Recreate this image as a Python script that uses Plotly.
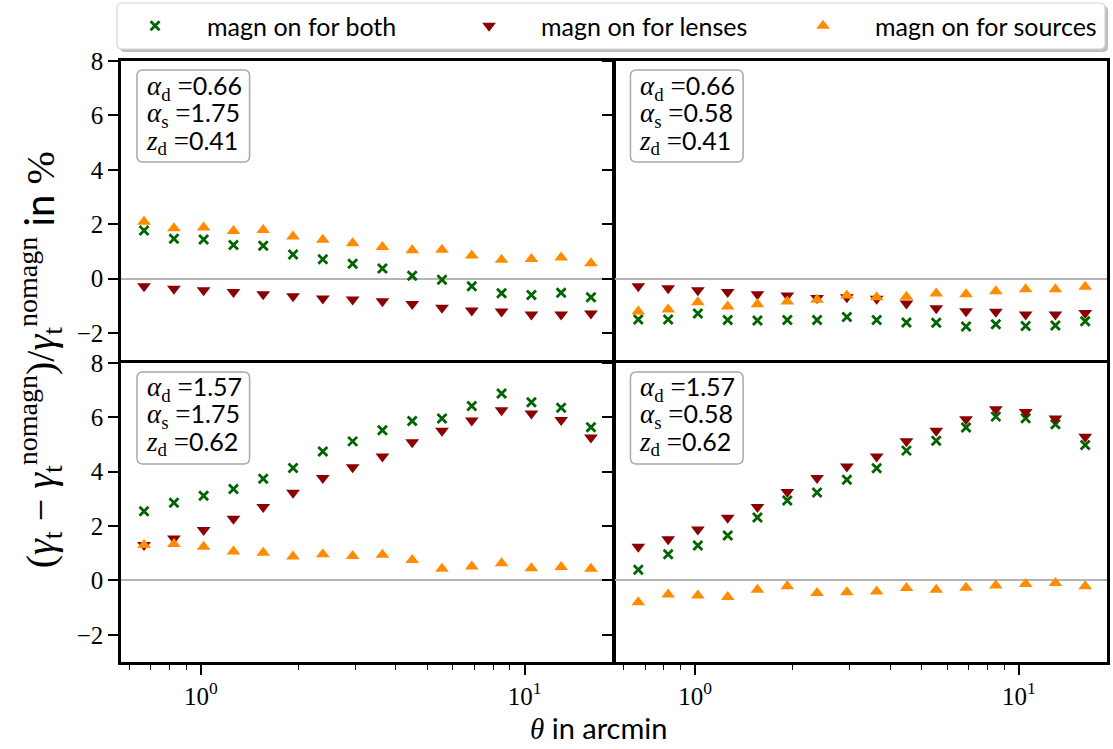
import plotly.graph_objects as go
from plotly.subplots import make_subplots

theta = [0.667, 0.825, 1.019, 1.26, 1.557, 1.925, 2.379, 2.941, 3.635, 4.493,
         5.553, 6.864, 8.484, 10.49, 12.96, 16.02]

# panel order: top-left, top-right, bottom-left, bottom-right
both = [
    [1.77, 1.47, 1.44, 1.24, 1.21, 0.89, 0.71, 0.55, 0.37, 0.11, -0.04, -0.28, -0.54, -0.60, -0.52, -0.68],
    [-1.50, -1.50, -1.28, -1.52, -1.54, -1.52, -1.52, -1.41, -1.52, -1.61, -1.62, -1.76, -1.68, -1.74, -1.72, -1.57],
    [2.54, 2.85, 3.11, 3.36, 3.74, 4.13, 4.74, 5.11, 5.52, 5.86, 5.95, 6.41, 6.87, 6.55, 6.35, 5.63],
    [0.39, 0.96, 1.28, 1.65, 2.31, 2.94, 3.23, 3.70, 4.12, 4.77, 5.13, 5.62, 6.02, 5.96, 5.74, 4.98],
]
lenses = [
    [-0.28, -0.37, -0.43, -0.49, -0.57, -0.65, -0.73, -0.77, -0.83, -0.93, -1.07, -1.17, -1.21, -1.32, -1.32, -1.28],
    [-0.28, -0.35, -0.43, -0.49, -0.57, -0.62, -0.71, -0.68, -0.74, -0.91, -1.09, -1.20, -1.22, -1.32, -1.32, -1.26],
    [1.30, 1.54, 1.85, 2.27, 2.70, 3.22, 3.76, 4.16, 4.55, 5.08, 5.50, 5.88, 6.25, 6.13, 5.90, 5.25],
    [1.24, 1.51, 1.87, 2.30, 2.70, 3.25, 3.76, 4.19, 4.55, 5.11, 5.50, 5.92, 6.29, 6.19, 5.95, 5.28],
]
sources = [
    [2.09, 1.85, 1.88, 1.75, 1.79, 1.55, 1.43, 1.30, 1.16, 1.04, 1.06, 0.85, 0.69, 0.72, 0.78, 0.57],
    [-1.21, -1.13, -0.87, -1.02, -0.94, -0.84, -0.78, -0.62, -0.68, -0.67, -0.55, -0.57, -0.46, -0.39, -0.39, -0.30],
    [1.30, 1.34, 1.24, 1.06, 1.02, 0.88, 0.96, 0.90, 0.94, 0.75, 0.43, 0.51, 0.63, 0.45, 0.49, 0.43],
    [-0.80, -0.52, -0.56, -0.61, -0.34, -0.22, -0.46, -0.44, -0.41, -0.28, -0.34, -0.27, -0.19, -0.13, -0.10, -0.22],
]
alpha_d = ["0.66", "0.66", "1.57", "1.57"]
alpha_s = ["1.75", "0.58", "1.75", "0.58"]
z_d = ["0.41", "0.41", "0.62", "0.62"]

series_names = ["magn on for both", "magn on for lenses", "magn on for sources"]
colors = ["#006400", "#8b0000", "#ff8c00"]

SERIF = "Liberation Serif, DejaVu Serif, serif"
SANS = "Lato, Open Sans, sans-serif"
TICKC = "black"

W, H = 1113, 749
L, R, T, B = 121, 3, 61, 87
PW, PH = W - L - R, H - T - B
LW = 2.5

fig = make_subplots(rows=2, cols=2, shared_xaxes=True, shared_yaxes=True,
                    horizontal_spacing=LW / PW, vertical_spacing=LW / PH)

positions = [(1, 1), (1, 2), (2, 1), (2, 2)]
for k, (r, c) in enumerate(positions):
    show = k == 0
    fig.add_trace(go.Scatter(x=theta, y=both[k], mode="markers", name=series_names[0],
                             legendgroup="a", showlegend=show,
                             marker=dict(symbol="x-thin", size=9, color=colors[0],
                                         line=dict(width=2.8, color=colors[0]))), row=r, col=c)
    fig.add_trace(go.Scatter(x=theta, y=lenses[k], mode="markers", name=series_names[1],
                             legendgroup="b", showlegend=show,
                             marker=dict(symbol="triangle-down", size=12, color=colors[1])), row=r, col=c)
    fig.add_trace(go.Scatter(x=theta, y=sources[k], mode="markers", name=series_names[2],
                             legendgroup="c", showlegend=show,
                             marker=dict(symbol="triangle-up", size=12, color=colors[2])), row=r, col=c)


def px(x, y):
    return (x - L) / PW, (H - B - y) / PH


def rounded(x0, y0, x1, y1, rad):
    ax0, ay0 = px(x0, y0)
    ax1, ay1 = px(x1, y1)
    rx, ry = rad / PW, rad / PH
    return (f"M {ax0+rx},{ay0} L {ax1-rx},{ay0} Q {ax1},{ay0} {ax1},{ay0-ry} "
            f"L {ax1},{ay1+ry} Q {ax1},{ay1} {ax1-rx},{ay1} L {ax0+rx},{ay1} "
            f"Q {ax0},{ay1} {ax0},{ay1+ry} L {ax0},{ay0-ry} Q {ax0},{ay0} {ax0+rx},{ay0} Z")


shapes = []
shapes.append(dict(type="path", xref="paper", yref="paper", path=rounded(120, 6, 1111, 52, 5),
                   fillcolor="#bdbdbd", line=dict(width=0), layer="below"))
shapes.append(dict(type="path", xref="paper", yref="paper", path=rounded(117, 3, 1108, 49, 5),
                   fillcolor="white", line=dict(color="#d4d4d4", width=1.2), layer="below"))

box_pos = [(137, 70), (632, 70), (137, 372), (632, 372)]
annotations = []


def box_line(sym, sub, val):
    return (f"<span style='font-size:27px'><i>{sym}</i><sub>{sub}</sub> =</span>"
            f"<span style='font-family:Lato;font-size:25px'>{val}</span>")


for k, (bx, by) in enumerate(box_pos):
    shapes.append(dict(type="path", xref="paper", yref="paper",
                       path=rounded(bx, by, bx + 113, by + 92, 6),
                       fillcolor="white", line=dict(color="#a8a8a8", width=1.5), layer="below"))
    txt = "<br>".join([box_line("α", "d", alpha_d[k]),
                       box_line("α", "s", alpha_s[k]),
                       box_line("z", "d", z_d[k])])
    tx, ty = px(bx + 7, by + 44)
    annotations.append(dict(text=txt, xref="paper", yref="paper", x=tx, y=ty,
                            xanchor="left", yanchor="middle", align="left", showarrow=False,
                            font=dict(family=SERIF, size=21, color="black")))

xt, yt = px(600, 728)
annotations.append(dict(text="<i>θ</i><span style='font-family:Lato'> in arcmin</span>",
                        xref="paper", yref="paper", x=xt, y=yt, xanchor="center", yanchor="middle",
                        showarrow=False, font=dict(family=SERIF, size=29, color="black")))
ytitle = ("(<i>γ</i><sub>t</sub> − <i>γ</i><sub>t</sub><sup>nomagn</sup>)/<i>γ</i><sub>t</sub>"
          "<sup>nomagn</sup><span style='font-family:Lato'> in </span>%")
xt2, yt2 = px(40, 360)
annotations.append(dict(text=ytitle, xref="paper", yref="paper", x=xt2, y=yt2, textangle=-90,
                        xanchor="center", yanchor="middle", showarrow=False,
                        font=dict(family=SERIF, size=40, color="black")))

minor_vals = [0.6, 0.7, 0.8, 0.9, 2, 3, 4, 5, 6, 7, 8, 9, 20]
xcommon = dict(type="log", range=[-0.247, 1.272], showline=True, mirror=True, linecolor="black",
               linewidth=LW, showgrid=False, zeroline=False)
for r in (1, 2):
    for c in (1, 2):
        if r == 2:
            fig.update_xaxes(**xcommon, ticks="outside", ticklen=10, tickwidth=2.2, tickcolor=TICKC,
                             tickvals=[1, 10], ticktext=["10<sup>0</sup>", "10<sup>1</sup>"],
                             tickfont=dict(family=SERIF, size=25, color="black"),
                             minor=dict(ticks="outside", ticklen=5, tickwidth=1.3, tickcolor=TICKC,
                                        tickvals=minor_vals, showgrid=False),
                             row=r, col=c)
        else:
            fig.update_xaxes(**xcommon, ticks="", showticklabels=False, row=r, col=c)
        fig.update_yaxes(range=[-3, 8], showline=True, mirror=True, linecolor="black", linewidth=LW,
                         showgrid=False, zeroline=True, zerolinecolor="#b4b4b4", zerolinewidth=1.6,
                         ticks="outside", ticklen=10, tickwidth=2.2, tickcolor=TICKC,
                         tickvals=[-2, 0, 2, 4, 6, 8], ticktext=["−2", "0", "2", "4", "6", "8"],
                         showticklabels=(c == 1),
                         tickfont=dict(family=SERIF, size=25, color="black"),
                         row=r, col=c)

lx, ly = px(103, 26)
fig.update_layout(
    width=W, height=H,
    margin=dict(l=L, r=R, t=T, b=B),
    paper_bgcolor="white", plot_bgcolor="white",
    shapes=shapes, annotations=annotations,
    legend=dict(orientation="h", x=lx, y=ly, xanchor="left", yanchor="middle",
                bgcolor="rgba(0,0,0,0)", borderwidth=0,
                entrywidth=225, entrywidthmode="pixels", itemwidth=94,
                font=dict(family=SANS, size=25, color="black")),
)

fig.write_html("out.html")
